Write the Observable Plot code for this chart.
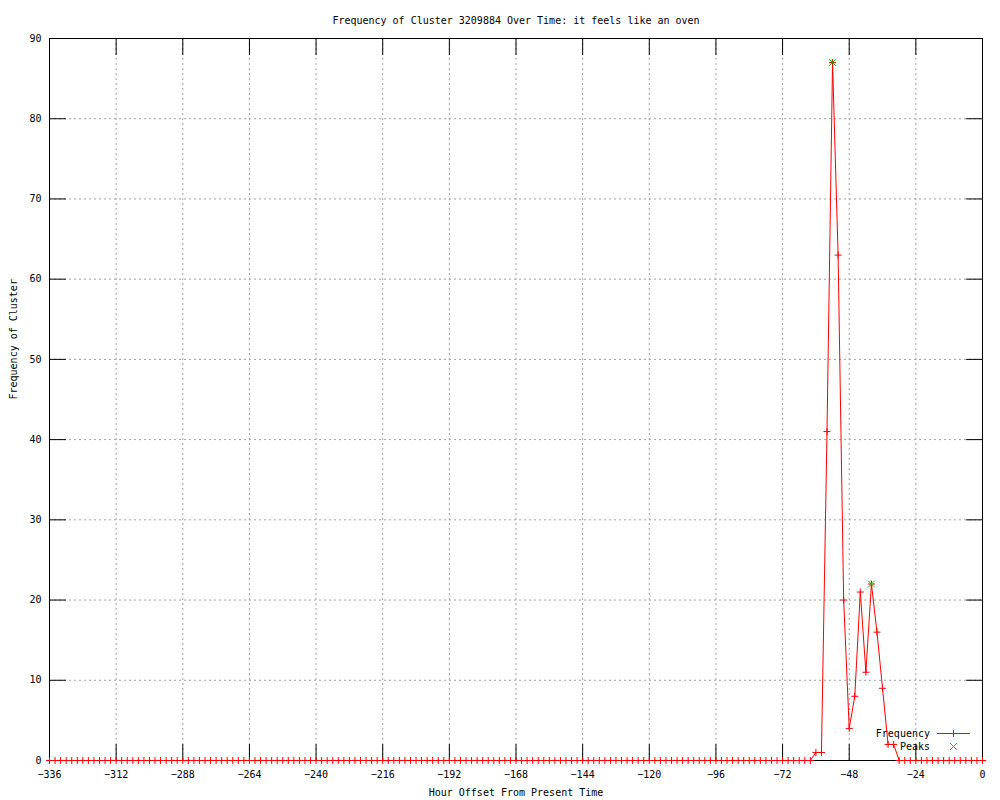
<!DOCTYPE html>
<html><head><meta charset="utf-8">
<script src="https://cdn.jsdelivr.net/npm/d3@7"></script>
<script src="https://cdn.jsdelivr.net/npm/@observablehq/plot@0.6"></script>
<style>body{margin:0;background:#fff}</style>
</head><body><div id="chart"></div>
<script>
const hours = [
  -336,-334,-332,-330,-328,-326,-324,-322,-320,-318,-316,-314,
  -312,-310,-308,-306,-304,-302,-300,-298,-296,-294,-292,-290,
  -288,-286,-284,-282,-280,-278,-276,-274,-272,-270,-268,-266,
  -264,-262,-260,-258,-256,-254,-252,-250,-248,-246,-244,-242,
  -240,-238,-236,-234,-232,-230,-228,-226,-224,-222,-220,-218,
  -216,-214,-212,-210,-208,-206,-204,-202,-200,-198,-196,-194,
  -192,-190,-188,-186,-184,-182,-180,-178,-176,-174,-172,-170,
  -168,-166,-164,-162,-160,-158,-156,-154,-152,-150,-148,-146,
  -144,-142,-140,-138,-136,-134,-132,-130,-128,-126,-124,-122,
  -120,-118,-116,-114,-112,-110,-108,-106,-104,-102,-100,-98,
  -96,-94,-92,-90,-88,-86,-84,-82,-80,-78,-76,-74,
  -72,-70,-68,-66,-64,-62,-60,-58,-56,-54,-52,-50,
  -48,-46,-44,-42,-40,-38,-36,-34,-32,-30,-28,-26,
  -24,-22,-20,-18,-16,-14,-12,-10,-8,-6,-4,-2,
  0
];
const counts = [
  0,0,0,0,0,0,0,0,0,0,0,0,
  0,0,0,0,0,0,0,0,0,0,0,0,
  0,0,0,0,0,0,0,0,0,0,0,0,
  0,0,0,0,0,0,0,0,0,0,0,0,
  0,0,0,0,0,0,0,0,0,0,0,0,
  0,0,0,0,0,0,0,0,0,0,0,0,
  0,0,0,0,0,0,0,0,0,0,0,0,
  0,0,0,0,0,0,0,0,0,0,0,0,
  0,0,0,0,0,0,0,0,0,0,0,0,
  0,0,0,0,0,0,0,0,0,0,0,0,
  0,0,0,0,0,0,0,0,0,0,0,0,
  0,0,0,0,0,0,1,1,41,87,63,20,
  4,8,21,11,22,16,9,2,2,0,0,0,
  0,0,0,0,0,0,0,0,0,0,0,0,
  0
];
const peakHours = [-54, -40];
const peakCounts = [87, 22];
const xTicks = [-336,-312,-288,-264,-240,-216,-192,-168,-144,-120,-96,-72,-48,-24,0];
const yTicks = [0,10,20,30,40,50,60,70,80,90];
const title = "Frequency of Cluster 3209884 Over Time: it feels like an oven";
const xLabel = "Hour Offset From Present Time";
const yLabel = "Frequency of Cluster";
const legendLabels = ["Frequency", "Peaks"];
const legendColors = ["#ff0000", "#00c000"];

const data = hours.map((h, i) => ({hour: h, count: counts[i]}));
const peaks = peakHours.map((h, i) => ({hour: h, count: peakCounts[i]}));
const seg = {draw(ctx, l) { ctx.moveTo(0, 0); ctx.lineTo(0, -l); }};
const gridStyle = {stroke: "#a0a0a0", strokeOpacity: 1, strokeDasharray: "2,3", strokeWidth: 1};
const tickStyle = {length: 16, anchor: "start", shape: seg, stroke: "black", strokeWidth: 1};

const W = 1000, H = 800, mL = 49, mR = 18, mT = 38, mB = 40;
const chart = Plot.plot({
  width: W, height: H,
  marginLeft: mL, marginRight: mR, marginTop: mT, marginBottom: mB,
  style: {fontFamily: "'DejaVu Sans Mono', monospace", fontSize: "10px", background: "white", color: "black"},
  x: {domain: [-336, 0]},
  y: {domain: [0, 90]},
  marks: [
    Plot.gridX(xTicks.slice(1, -1), gridStyle),
    Plot.gridY(yTicks.slice(1, -1), gridStyle),
    Plot.frame({stroke: "black", strokeWidth: 1}),
    Plot.vector(xTicks, {x: d => d, y: 0, rotate: 0, ...tickStyle}),
    Plot.vector(xTicks, {x: d => d, y: 90, rotate: 180, ...tickStyle}),
    Plot.vector(yTicks, {x: -336, y: d => d, rotate: 90, ...tickStyle}),
    Plot.vector(yTicks, {x: 0, y: d => d, rotate: -90, ...tickStyle}),
    Plot.axisX(xTicks, {tickSize: 0, tickPadding: 10, label: null, fill: "black"}),
    Plot.axisY(yTicks, {tickSize: 0, tickPadding: 8, label: null, fill: "black"}),
    Plot.line(data, {x: "hour", y: "count", stroke: legendColors[0], strokeWidth: 1}),
    Plot.dot(data, {x: "hour", y: "count", symbol: "plus", r: 2.4, stroke: legendColors[0], strokeWidth: 1}),
    Plot.dot(peaks, {x: "hour", y: "count", symbol: "times", r: 3.1, stroke: legendColors[1], strokeWidth: 1}),
    Plot.text([title], {frameAnchor: "top", dy: -22, fill: "black"}),
    Plot.text([xLabel], {frameAnchor: "bottom", dy: 35, fill: "black"}),
    Plot.text([yLabel], {frameAnchor: "left", rotate: -90, dx: -36, fill: "black"})
  ]
});
document.getElementById("chart").appendChild(chart);

// Legend (key), placed inside the bottom-right corner of the frame
const svg = d3.select(chart);
const right = W - mR, bottom = H - mB;
const key = svg.append("g")
  .attr("font-family", "'DejaVu Sans Mono', monospace")
  .attr("font-size", "10px");
legendLabels.forEach((label, i) => {
  const y = bottom - 27 + i * 13 + 0.5;
  const cx = right - 29 + 0.5;
  key.append("text")
    .attr("x", right - 52).attr("y", y).attr("dy", "0.32em")
    .attr("text-anchor", "end").attr("fill", "black").text(label);
  const s = 3.5;
  if (i === 0) {
    key.append("line").attr("x1", right - 45).attr("x2", right - 12)
      .attr("y1", y).attr("y2", y).attr("stroke", legendColors[0]).attr("stroke-width", 1);
    key.append("path").attr("d", `M${cx - s},${y}H${cx + s}M${cx},${y - s}V${y + s}`)
      .attr("stroke", legendColors[0]).attr("stroke-width", 1).attr("fill", "none");
  } else {
    key.append("path").attr("d", `M${cx - s},${y - s}L${cx + s},${y + s}M${cx - s},${y + s}L${cx + s},${y - s}`)
      .attr("stroke", legendColors[1]).attr("stroke-width", 1).attr("fill", "none");
  }
});
</script>
</body></html>
